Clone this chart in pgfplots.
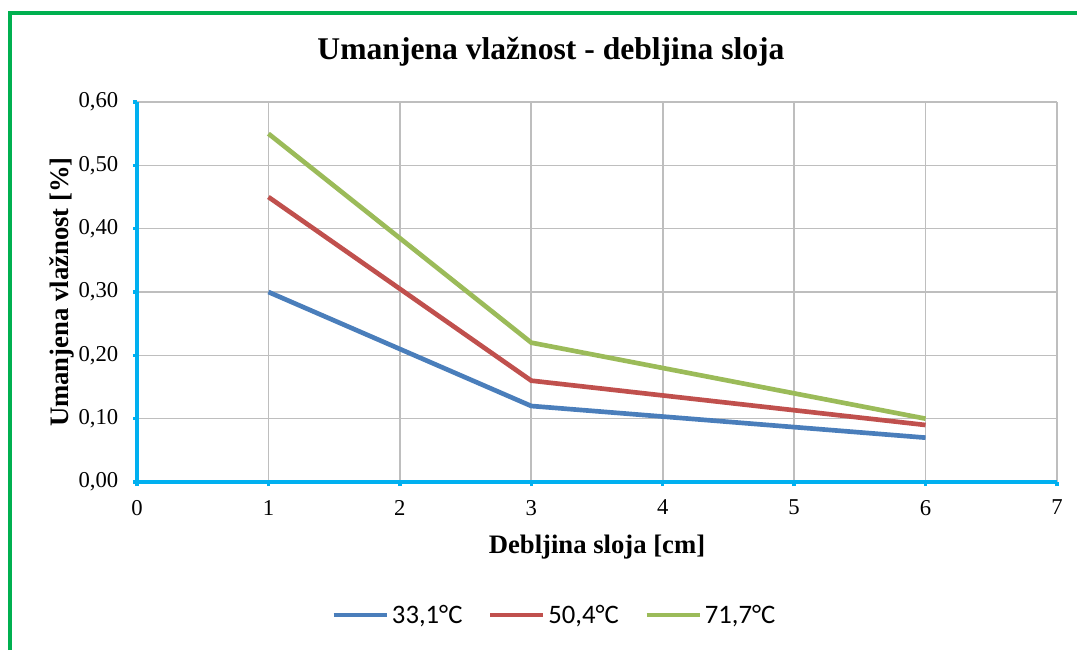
\documentclass[border=0pt]{standalone}
\usepackage{pgfplots}
\pgfplotsset{compat=1.18}
\usepackage{fontspec}
\setmainfont{Liberation Serif}
\newfontfamily\carlito{Carlito}
\definecolor{xlblue}{RGB}{74,126,187}
\definecolor{xlred}{RGB}{192,80,77}
\definecolor{xlgreen}{RGB}{155,187,89}
\definecolor{axcyan}{RGB}{0,176,240}
\definecolor{frame}{RGB}{0,176,80}
\definecolor{gridgray}{RGB}{190,190,190}
\begin{document}
\begin{tikzpicture}
\path[use as bounding box] (0,0) rectangle (807.75pt,487.5pt);
\draw[frame, line width=3pt] (7.5pt,0pt) -- (7.5pt,477.75pt) -- (807.75pt,477.75pt);
\begin{axis}[
  at={(102.75pt,126pt)}, anchor=south west,
  scale only axis, width=690pt, height=285pt,
  xmin=0, xmax=7, ymin=0, ymax=0.6,
  xtick={0,1,...,7}, ytick={0,0.1,0.2,0.3,0.4,0.5,0.6},
  axis x line*=bottom, axis y line*=left,
  axis line style={axcyan, line width=3pt},
  tick align=outside, major tick length=3pt,
  tick style={axcyan, line width=2.5pt},
  grid=major, grid style={gridgray, line width=1.2pt},
  /pgf/number format/assume math mode=true,
  yticklabel style={xshift=-7.5pt, /pgf/number format/fixed, /pgf/number format/fixed zerofill, /pgf/number format/precision=2, /pgf/number format/use comma},
  ticklabel style={font=\fontsize{17}{20}\selectfont},
  xticklabel style={yshift=-7pt},
  title={\textbf{Umanjena vlažnost - debljina sloja}},
  title style={at={(0.45,1.11)}, anchor=center, font=\fontsize{23.7}{27}\selectfont},
  xlabel={\textbf{Debljina sloja [cm]}},
  xlabel style={at={(0.5,-0.171)}, anchor=center, font=\fontsize{20}{24}\selectfont},
  ylabel={\textbf{Umanjena vlažnost [\%]}},
  ylabel style={at={(-0.0815,0.5)}, anchor=center, rotate=0, font=\fontsize{20}{24}\selectfont},
  legend columns=3,
  legend style={at={(0.454,-0.35)}, anchor=center, draw=none, fill=none,
    font=\carlito\fontsize{20}{24}\selectfont,
    /tikz/every even column/.append style={column sep=17pt}},
  legend image code/.code={\draw[#1] (0pt,0pt) -- (40pt,0pt);},
  clip=false,
]
\addplot[xlblue, line width=3.5pt] coordinates {(1,0.30) (3,0.12) (6,0.07)};
\addlegendentry{33,1°C}
\addplot[xlred, line width=3.5pt] coordinates {(1,0.45) (3,0.16) (6,0.09)};
\addlegendentry{50,4°C}
\addplot[xlgreen, line width=3.5pt] coordinates {(1,0.55) (3,0.22) (6,0.10)};
\addlegendentry{71,7°C}
\end{axis}
\end{tikzpicture}
\end{document}
